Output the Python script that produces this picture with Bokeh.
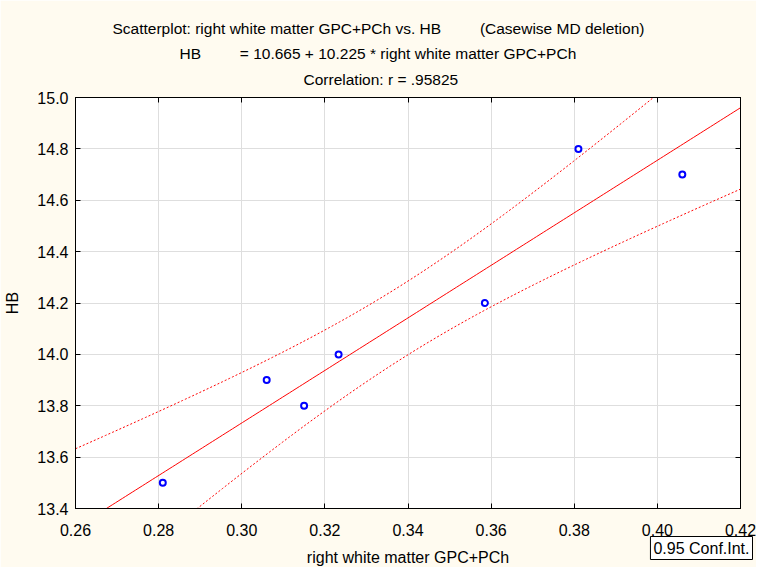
import numpy as np
from bokeh.plotting import figure
from bokeh.models import LinearAxis, FixedTicker, NumeralTickFormatter, Title
from bokeh.embed import file_html
from bokeh.resources import INLINE

# ---- data ----
gpc_pch = [0.281, 0.306, 0.315, 0.3233, 0.3585, 0.381, 0.406]
hb = [13.5, 13.9, 13.8, 14.0, 14.2, 14.8, 14.7]
x_ticks = [0.26, 0.28, 0.30, 0.32, 0.34, 0.36, 0.38, 0.40, 0.42]
y_ticks = [13.4, 13.6, 13.8, 14.0, 14.2, 14.4, 14.6, 14.8, 15.0]
t_crit = 2.5706  # Student t, 0.975 quantile, df = 5

NB = "\u00a0"
title_1 = "Scatterplot: right white matter GPC+PCh vs. HB" + NB * 9 + "(Casewise MD deletion)"
title_2 = "HB" + NB * 9 + "= 10.665 + 10.225 * right white matter GPC+PCh"
title_3 = "Correlation: r = .95825"
x_label = "right white matter GPC+PCh"
y_label = "HB"
ci_label = "0.95 Conf.Int."

# ---- regression and 95% confidence band computed from the data ----
x = np.array(gpc_pch)
y = np.array(hb)
n = len(x)
slope, intercept = np.polyfit(x, y, 1)
xs = np.linspace(x_ticks[0], x_ticks[-1], 200)
fit = intercept + slope * xs
resid = y - (intercept + slope * x)
s = np.sqrt(np.sum(resid ** 2) / (n - 2))
sxx = np.sum((x - x.mean()) ** 2)
half = t_crit * s * np.sqrt(1.0 / n + (xs - x.mean()) ** 2 / sxx)

FONT = "Liberation Sans"
FS = "16px"
TFS = "15.5px"
BG = "#FFFBF0"

p = figure(width=756, height=567, output_backend="svg", toolbar_location=None,
           x_range=(x_ticks[0], x_ticks[-1]), y_range=(y_ticks[0], y_ticks[-1]),
           min_border_left=75, min_border_right=16, min_border_top=97, min_border_bottom=59)
p.border_fill_color = BG
p.background_fill_color = "white"
p.outline_line_color = "black"
p.outline_line_width = 1

# axes
p.xaxis.ticker = FixedTicker(ticks=x_ticks)
p.yaxis.ticker = FixedTicker(ticks=y_ticks)
p.xaxis.formatter = NumeralTickFormatter(format="0.00")
p.yaxis.formatter = NumeralTickFormatter(format="0.0")
for ax in (p.xaxis, p.yaxis):
    ax.major_tick_in = 5
    ax.major_tick_out = 0
    ax.minor_tick_line_color = None
    ax.axis_line_color = "black"
    ax.major_tick_line_color = "black"
    ax.major_label_text_font = FONT
    ax.major_label_text_font_size = FS
    ax.major_label_text_color = "black"
    ax.axis_label_text_font = FONT
    ax.axis_label_text_font_size = FS
    ax.axis_label_text_font_style = "normal"
    ax.axis_label_text_color = "black"
p.yaxis.axis_label = y_label
p.xaxis.major_label_standoff = 15
p.yaxis.major_label_standoff = 7
p.yaxis.axis_label_standoff = 13

for loc, ticks in (("above", x_ticks), ("right", y_ticks)):
    mirror = LinearAxis(ticker=FixedTicker(ticks=ticks), major_label_text_font_size="0px",
                        major_label_text_color=None, major_tick_in=5, major_tick_out=0,
                        minor_tick_line_color=None, axis_line_color="black",
                        major_label_standoff=0)
    p.add_layout(mirror, loc)

p.grid.grid_line_color = "#dedede"
p.grid.grid_line_width = 1
p.xgrid.ticker = FixedTicker(ticks=x_ticks)
p.ygrid.ticker = FixedTicker(ticks=y_ticks)

# glyphs
p.line(xs, fit, line_color="#ff0000", line_width=1)
p.line(xs, fit + half, line_color="#ff0000", line_width=1, line_dash="2 2")
p.line(xs, fit - half, line_color="#ff0000", line_width=1, line_dash="2 2")
p.scatter(gpc_pch, hb, marker="circle", size=6, fill_color="white",
          line_color="#0000ff", line_width=2)

# small spacer between the frame and the title block
p.add_layout(Title(text=NB, text_font_size="1px", standoff=3), "above")
# three title lines (first added sits closest to the plot)
for text, off, so in ((title_3, 228, 6.5), (title_2, 104, 7), (title_1, 37, 5)):
    t = Title(text=text, align="left", offset=off, text_font=FONT, text_font_size=TFS,
              text_font_style="normal", text_color="black", standoff=so)
    p.add_layout(t, "above")

# bottom panel: "0.95 Conf.Int." box and the x-axis title share one row
box = Title(text=ci_label, align="right", offset=-12, vertical_align="bottom",
            text_font=FONT, text_font_size=FS, text_font_style="normal", text_color="black",
            border_line_color="black", border_line_width=1,
            background_fill_color="white", padding=3, standoff=-8)
p.add_layout(box, "below")
xtitle = Title(text=x_label, align="center", vertical_align="bottom",
               text_font=FONT, text_font_size=FS, text_font_style="normal",
               text_color="black", standoff=-18)
p.add_layout(xtitle, "below")

open("out.html", "w").write(file_html(p, INLINE))
